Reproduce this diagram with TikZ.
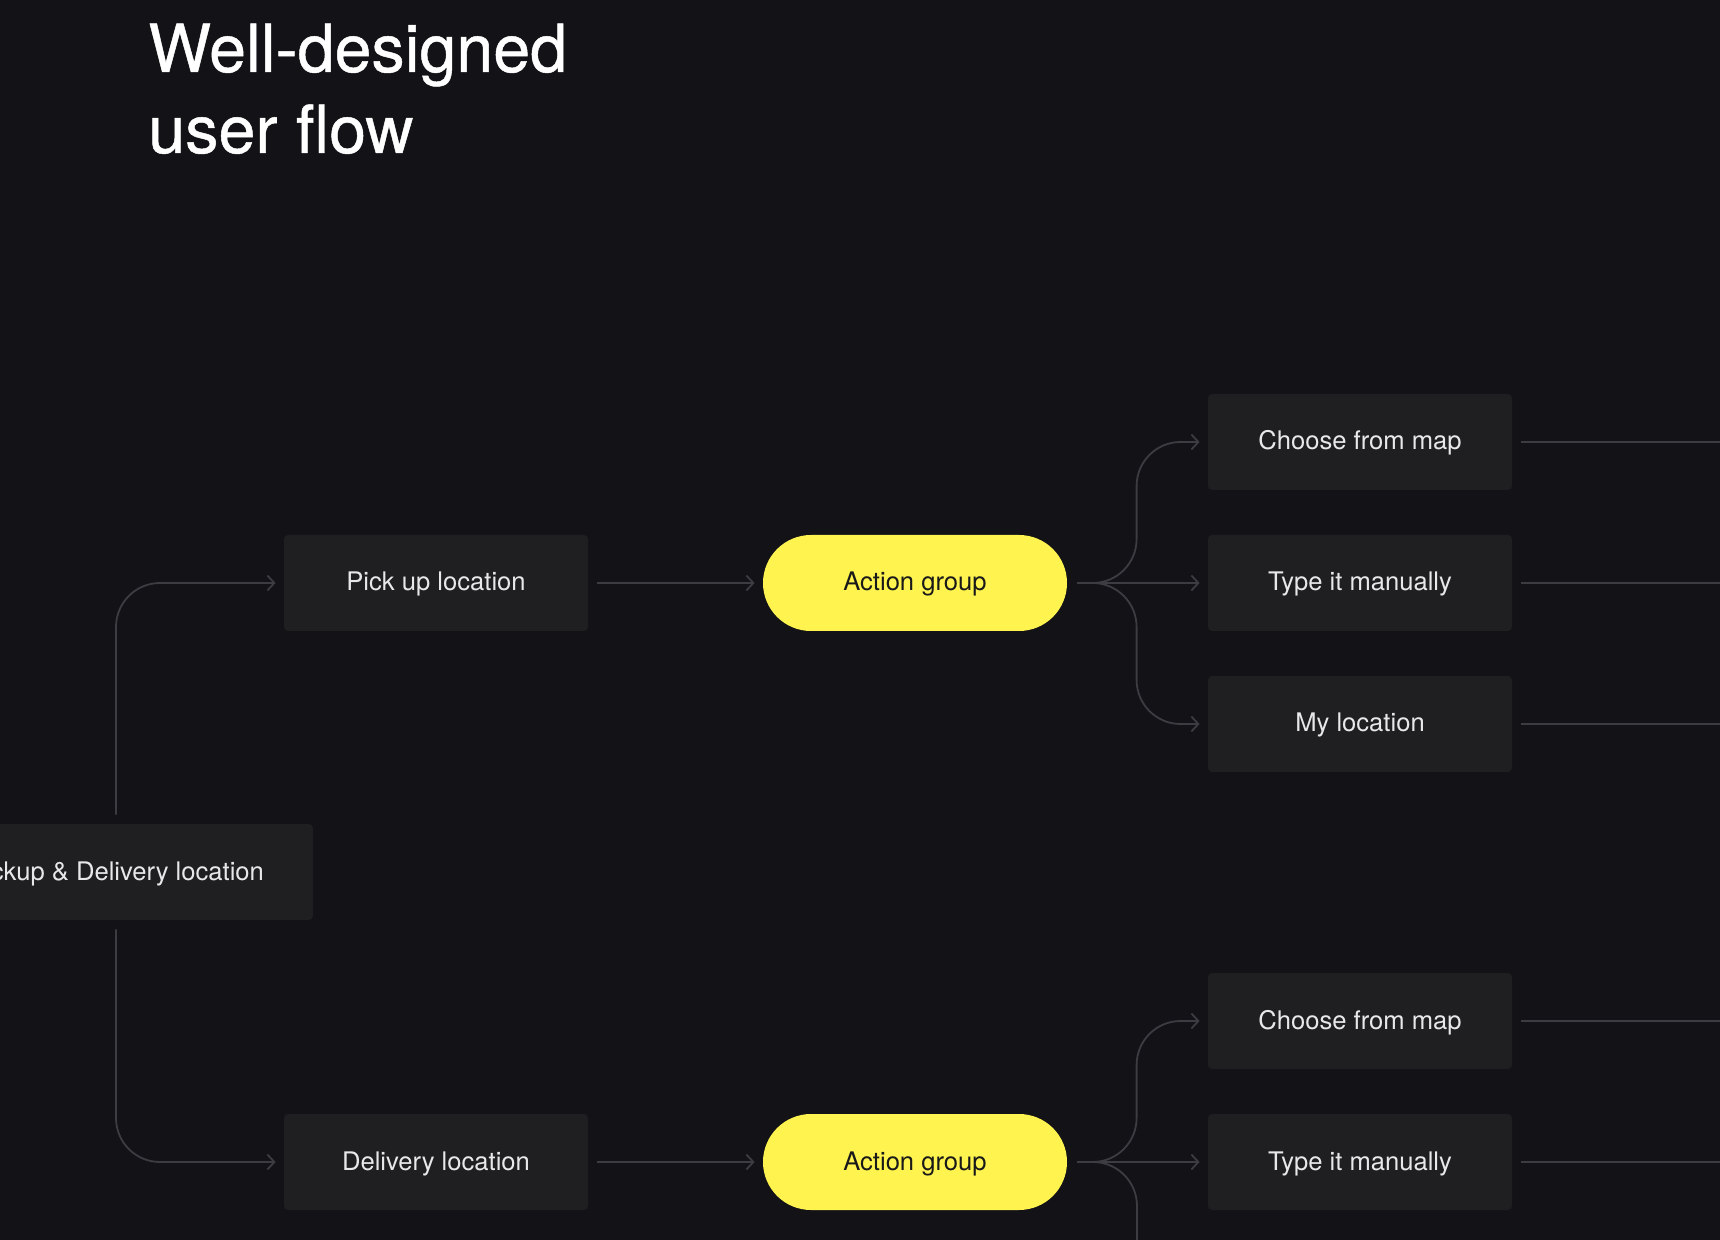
\documentclass[tikz,border=0pt]{standalone}
\usepackage{fontspec}
\setmainfont{TeX Gyre Heros}
\newfontfamily\headfont[FakeBold=0.7]{TeX Gyre Heros}
\usetikzlibrary{arrows.meta}
\definecolor{bg}{HTML}{121217}
\definecolor{boxfill}{HTML}{1F1F22}
\definecolor{wire}{HTML}{3C3C42}
\definecolor{pill}{HTML}{FFF44F}
\definecolor{label}{HTML}{E8E8EA}
\begin{document}
\begin{tikzpicture}[x=.5pt,y=-.5pt,>={Straight Barb[length=3.5pt,width=7.5pt]},
  card/.style={fill=boxfill,rounded corners=2pt,minimum width=152pt,minimum height=48pt,
    inner sep=0pt,text height=9pt,text depth=1pt,text=label,font=\fontsize{12.8}{15}\selectfont},
  action/.style={card,fill=pill,text=black!90,rounded corners=24pt},
  wire/.style={draw=wire,line width=.9pt,rounded corners=22pt,shorten <=4.5pt,shorten >=4pt},
  head/.style={text=white,font=\headfont\fontsize{33.2}{40}\selectfont,inner sep=0pt,anchor=base west}]
\useasboundingbox (0,0) rectangle (1720,1240);
\clip (0,0) rectangle (1720,1240);
\fill[bg] (0,0) rectangle (1720,1240);
\coordinate (edge) at (1720,0);
\coordinate (down) at (1137,1270);

\node[head] (head1) at (148,72) {Well-designed};
\node[head] (head2) at (148,153) {user flow};

\node[card,minimum width=197pt] (both) at (116,872) {Pickup \& Delivery location};
\node[card] (pick) at (436,583) {Pick up location};
\node[card] (drop) at (436,1162) {Delivery location};
\node[action] (act1) at (915,583) {Action group};
\node[action] (act2) at (915,1162) {Action group};
\node[card] (map1) at (1360,442) {Choose from map};
\node[card] (type1) at (1360,583) {Type it manually};
\node[card] (mine1) at (1360,724) {My location};
\node[card] (map2) at (1360,1021) {Choose from map};
\node[card] (type2) at (1360,1162) {Type it manually};

\draw[wire,->] (both.north) |- (pick.west);
\draw[wire,->] (both.south) |- (drop.west);
\draw[wire,->] (pick) -- (act1);
\draw[wire,->] (drop) -- (act2);

\draw[wire,->,shorten <=5pt] (act1.east) -| ([xshift=-35.5pt]map1.west) -- (map1.west);
\draw[wire,->,shorten <=5pt] (act1) -- (type1);
\draw[wire,->,shorten <=5pt] (act1.east) -| ([xshift=-35.5pt]mine1.west) -- (mine1.west);
\draw[wire,->,shorten <=5pt] (act2.east) -| ([xshift=-35.5pt]map2.west) -- (map2.west);
\draw[wire,->,shorten <=5pt] (act2) -- (type2);
\draw[wire,shorten <=5pt] (act2.east) -| (down);

\foreach \n in {map1,type1,mine1,map2,type2}
  \draw[wire,shorten >=0pt] (\n.east) -- (\n.east -| edge);
\end{tikzpicture}
\end{document}
